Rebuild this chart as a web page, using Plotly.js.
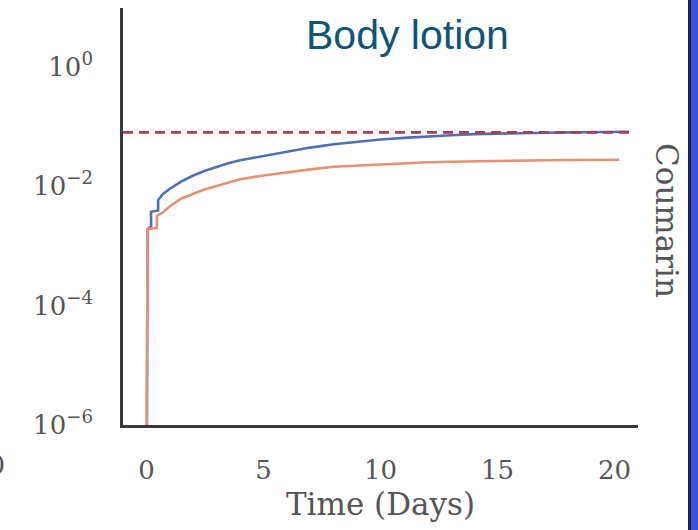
<!DOCTYPE html>
<html>
<head>
<meta charset="utf-8">
<script src="https://cdn.plot.ly/plotly-3.0.1.min.js"></script>
<style>html,body{margin:0;padding:0;background:#fff;}#chart{width:698px;height:530px;}</style>
</head>
<body>
<div id="chart"></div>
<script>
// ---- data ----
const chartTitle = "Body lotion";
const xTitle = "Time (Days)";
const sideLabel = "Coumarin";

const blueDays = [0, 0.05, 0.2, 0.2, 0.5, 0.5, 0.7, 1.0, 1.5, 2.0, 2.5, 3.0, 3.5, 4, 5, 6, 7, 8, 9, 10, 11, 12, 13, 14, 15, 16, 17, 18, 19, 20, 20.6];
const blueValues = [1e-8, 1.9e-3, 2.1e-3, 3.7e-3, 3.9e-3, 5.8e-3, 7.3e-3, 9.0e-3, 1.2e-2, 1.5e-2, 1.8e-2, 2.1e-2, 2.4e-2, 2.7e-2, 3.2e-2, 3.8e-2, 4.4e-2, 5.0e-2, 5.5e-2, 6.0e-2, 6.4e-2, 6.8e-2, 7.1e-2, 7.4e-2, 7.6e-2, 7.7e-2, 7.8e-2, 7.9e-2, 8.0e-2, 8.1e-2, 8.1e-2];

const orangeDays = [0, 0.05, 0.45, 0.45, 0.7, 1.0, 1.5, 2, 2.5, 3, 3.5, 4, 5, 6, 7, 8, 9, 10, 11, 12, 13, 14, 15, 16, 17, 18, 19, 20, 20.2];
const orangeValues = [1e-8, 1.9e-3, 2.0e-3, 3.2e-3, 3.6e-3, 4.6e-3, 6.2e-3, 7.5e-3, 8.8e-3, 1.0e-2, 1.15e-2, 1.3e-2, 1.5e-2, 1.7e-2, 1.9e-2, 2.1e-2, 2.2e-2, 2.3e-2, 2.4e-2, 2.5e-2, 2.55e-2, 2.6e-2, 2.63e-2, 2.66e-2, 2.7e-2, 2.72e-2, 2.74e-2, 2.75e-2, 2.75e-2];

const limitDays = [-1, 20.7];
const limitValues = [0.079, 0.079];

const xTickVals = [0, 5, 10, 15, 20];
const xTickText = ["0", "5", "10", "15", "20"];
const yTickVals = [1e-6, 1e-4, 1e-2, 1];
const yTickText = ["10<sup>−6</sup>", "10<sup>−4</sup>", "10<sup>−2</sup>", "10<sup>0</sup>"];

// ---- chart ----
const tickFont = {family: "DejaVu Serif", size: 26, color: "#555555"};

const traces = [
  {x: blueDays, y: blueValues, mode: "lines", line: {color: "#5070b6", width: 2.6}, hoverinfo: "skip"},
  {x: orangeDays, y: orangeValues, mode: "lines", line: {color: "#e39272", width: 2.6}, hoverinfo: "skip"},
  {x: limitDays, y: limitValues, mode: "lines", line: {color: "#a63d52", width: 2.6, dash: "10px,6px"}, hoverinfo: "skip"}
];

const layout = {
  width: 698, height: 530,
  margin: {l: 123, r: 60, t: 8, b: 105},
  paper_bgcolor: "#ffffff", plot_bgcolor: "#ffffff",
  showlegend: false,
  xaxis: {
    range: [-1, 21], showgrid: false, zeroline: false,
    showline: true, linecolor: "#3a3a3a", linewidth: 2.8,
    tickmode: "array", tickvals: xTickVals, ticktext: xTickText,
    ticks: "outside", ticklen: 20, tickcolor: "rgba(0,0,0,0)",
    tickfont: tickFont,
    title: {text: xTitle, font: {family: "DejaVu Serif", size: 31, color: "#555555"}, standoff: 10}
  },
  yaxis: {
    type: "log", range: [-6, 0.98], showgrid: false, zeroline: false,
    showline: true, linecolor: "#3a3a3a", linewidth: 2.8,
    tickmode: "array", tickvals: yTickVals, ticktext: yTickText,
    ticks: "outside", ticklen: 22, tickcolor: "rgba(0,0,0,0)",
    tickfont: tickFont
  },
  annotations: [
    {text: chartTitle, xref: "paper", yref: "paper", x: (407 - 123) / 515, y: (425 - 35) / 417,
     xanchor: "center", yanchor: "middle", showarrow: false,
     font: {family: "Liberation Sans", size: 41, color: "#0d5577"}},
    {text: sideLabel, xref: "paper", yref: "paper", x: (667 - 123) / 515, y: (425 - 220) / 417,
     xanchor: "center", yanchor: "middle", showarrow: false, textangle: 90,
     font: {family: "DejaVu Serif", size: 31, color: "#555555"}},
    {text: "20", xref: "paper", yref: "paper", x: (-12 - 123) / 515, y: (425 - 465) / 417,
     xanchor: "center", yanchor: "middle", showarrow: false,
     font: tickFont}
  ],
  shapes: [
    {type: "rect", xref: "paper", yref: "paper", x0: (688 - 123) / 515, x1: (700 - 123) / 515, y0: -0.3, y1: 1.1,
     fillcolor: "#3d4fd3", line: {width: 0}, layer: "above"},
    {type: "rect", xref: "paper", yref: "paper", x0: (688 - 123) / 515, x1: (691 - 123) / 515, y0: -0.3, y1: 1.1,
     fillcolor: "#1c1f5e", line: {width: 0}, layer: "above"}
  ]
};

Plotly.newPlot("chart", traces, layout, {staticPlot: true, displayModeBar: false});
</script>
</body>
</html>
